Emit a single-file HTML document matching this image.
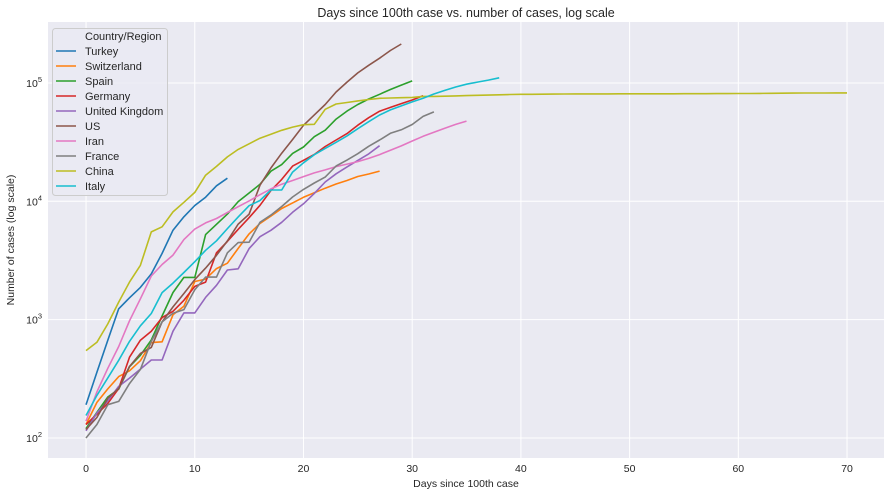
<!DOCTYPE html>
<html><head><meta charset="utf-8"><style>
html,body{margin:0;padding:0;background:#fff;}
svg{display:block;font-family:"Liberation Sans","DejaVu Sans",sans-serif;}
</style></head><body>
<svg id="chart" width="891" height="496"></svg>
<script>
const countries=["Turkey","Switzerland","Spain","Germany","United Kingdom","US","Iran","France","China","Italy"];
const colors=["#1f77b4","#ff7f0e","#2ca02c","#d62728","#9467bd","#8c564b","#e377c2","#7f7f7f","#bcbd22","#17becf"];
const turkey=[191,359,670,1236,1529,1872,2433,3629,5698,7402,9217,10827,13531,15679];
const switzerland=[130,200,260,330,370,450,640,650,1100,1300,2100,2200,2700,3000,4000,5300,6500,7500,8700,9700,10800,11800,12900,14000,15000,16200,17000,18000];
const spain=[120,165,222,259,400,500,673,1073,1695,2277,2277,5232,6391,7798,9942,11748,13910,17963,20410,25374,28768,35136,39885,49515,57786,65719,73235,80110,87956,95923,104118];
const germany=[130,159,196,262,482,670,799,1040,1176,1457,1908,2078,3675,4585,5795,7272,9257,12327,15320,19848,22213,24873,29056,32986,37323,43938,50871,57695,62095,66885,71808,77872];
const uk=[115,163,206,273,321,382,456,456,798,1140,1140,1543,1950,2626,2689,3983,5018,5683,6650,8077,9529,11658,14543,17089,19522,22141,25150,29474];
const us=[118,149,217,262,402,518,583,959,1281,1663,2179,2727,3499,4632,6421,7783,13677,19100,25489,33276,43847,53740,65778,83836,101657,121478,140886,161807,188172,213372];
const iran=[139,245,388,593,978,1501,2336,2922,3513,4747,5823,6566,7161,8042,9000,10075,11364,12729,13938,14991,16169,17361,18407,19644,20610,21638,23049,24811,27017,29406,32332,35408,38309,41495,44605,47593];
const france=[100,130,191,204,288,380,656,957,1134,1217,1792,2289,2289,3672,4480,4513,6650,7652,9043,10871,12612,14282,16018,19856,22304,25233,29155,32964,37575,40174,44550,52128,56989];
const china=[548,643,920,1406,2075,2877,5509,6087,8141,9802,11891,16630,19716,23707,27440,30587,34110,36814,39829,42354,44386,44759,59895,66358,68413,70513,72434,74211,74619,75077,75550,77001,77022,77241,77754,78166,78600,78928,79356,79932,80136,80261,80386,80537,80690,80770,80823,80860,80887,80921,80932,80945,80977,81003,81033,81058,81102,81156,81250,81305,81435,81498,81600,81747,81890,82055,82165,82245,82308,82350,82400];
const italy=[155,229,322,453,655,888,1128,1694,2036,2502,3089,3858,4636,5883,7375,9172,10149,12462,12462,17660,21157,24747,27980,31506,35713,41035,47021,53578,59138,63927,69176,74386,80589,86498,92472,97689,101739,105792,110574];
const series=[turkey,switzerland,spain,germany,uk,us,iran,france,china,italy];
const xTicks=[0,10,20,30,40,50,60,70];
const yTicks=[2,3,4,5];

const NS="http://www.w3.org/2000/svg";
const svg=document.getElementById('chart');
const L=48,R=884,T=22,B=458;
const xMin=-3.5,xMax=73.4;
const yLogMin=1.831,yLogMax=5.515;
function sx(v){return L+(v-xMin)/(xMax-xMin)*(R-L);}
function sy(v){return B-(Math.log10(v)-yLogMin)/(yLogMax-yLogMin)*(B-T);}
function el(tag,attrs,parent){const e=document.createElementNS(NS,tag);for(const k in attrs)e.setAttribute(k,attrs[k]);(parent||svg).appendChild(e);return e;}

const bg=el('rect',{x:L,y:T,width:R-L,height:B-T,fill:'#eaeaf2'});



xTicks.forEach(t=>{
  const g=el('line',{x1:sx(t),x2:sx(t),y1:T,y2:B,stroke:'#fff','stroke-width':1});
  
  
  const lb=el('text',{x:sx(t),y:B+14,'text-anchor':'middle','font-size':10.5,fill:'#262626'});
  lb.textContent=t;
  
  
});
yTicks.forEach(p=>{
  const y=sy(Math.pow(10,p));
  const g=el('line',{x1:L,x2:R,y1:y,y2:y,stroke:'#fff','stroke-width':1});
  
  
  const lb=el('text',{x:L-6,y:y+4,'text-anchor':'end','font-size':10.5,fill:'#262626'});
  
  
  const a=document.createElementNS(NS,'tspan');a.textContent='10';lb.appendChild(a);
  const b=document.createElementNS(NS,'tspan');b.setAttribute('dy','-5');b.setAttribute('font-size','7.5');b.textContent=p;lb.appendChild(b);
});

series.forEach((s,i)=>{
  const d=s.map((v,j)=>(j?'L':'M')+sx(j).toFixed(1)+','+sy(v).toFixed(1)).join(' ');
  const p=el('path',{d:d,fill:'none',stroke:colors[i],'stroke-width':1.6,'stroke-linejoin':'round'});
  
  
});

const title=el('text',{x:(L+R)/2,y:17,'text-anchor':'middle','font-size':12.5,fill:'#262626'});
title.textContent='Days since 100th case vs. number of cases, log scale';


const xl=el('text',{x:(L+R)/2,y:487,'text-anchor':'middle','font-size':10.5,fill:'#262626'});
xl.textContent='Days since 100th case';


const yl=el('text',{x:14,y:(T+B)/2,'text-anchor':'middle','font-size':10.5,fill:'#262626',transform:'rotate(-90 14 '+((T+B)/2)+')'});
yl.textContent='Number of cases (log scale)';



const lg=el('g',{});


el('rect',{x:52.5,y:28.5,width:115,height:167,rx:3,fill:'#eaeaf2','fill-opacity':0.8,stroke:'#cccccc'},lg);
const lt=el('text',{x:85,y:40,'font-size':11,fill:'#262626'},lg);
lt.textContent='Country/Region';


countries.forEach((c,i)=>{
  const y=51+i*15;
  const g=el('g',{},lg);
  
  
  el('line',{x1:56,x2:76,y1:y,y2:y,stroke:colors[i],'stroke-width':1.6},g);
  const t=el('text',{x:85,y:y+4,'font-size':11,fill:'#262626'},g);
  t.textContent=c;
});
</script>
</body></html>
